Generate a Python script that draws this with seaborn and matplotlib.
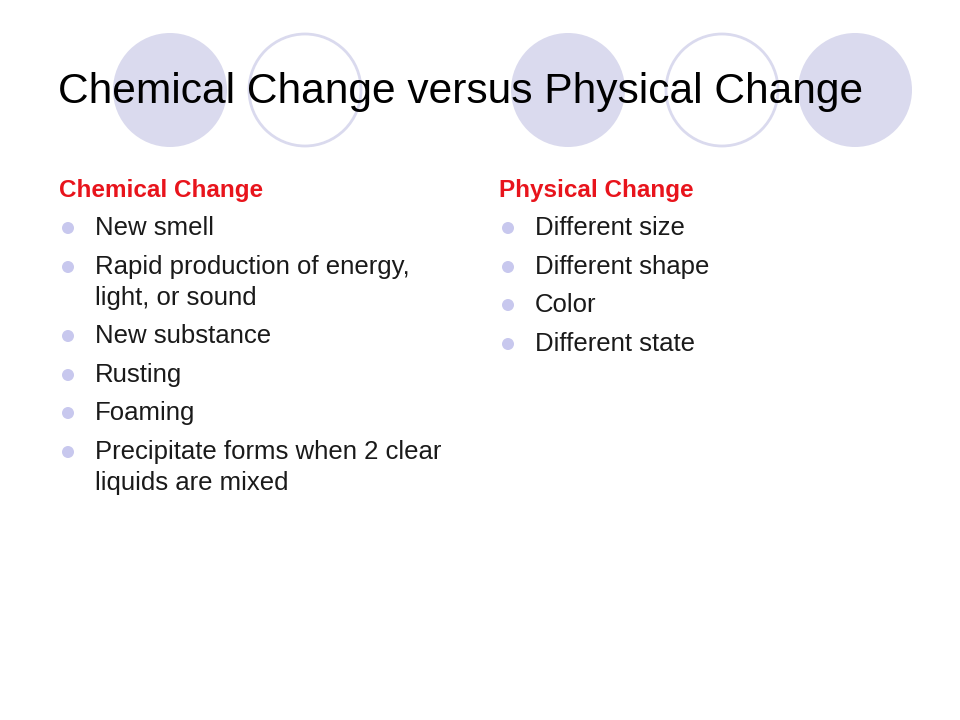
import matplotlib
matplotlib.use("Agg")
import matplotlib.pyplot as plt
import seaborn as sns
from matplotlib.patches import Circle

title = "Chemical Change versus Physical Change"
left_header = "Chemical Change"
right_header = "Physical Change"
left_items = ["New smell", "Rapid production of energy,\nlight, or sound", "New substance",
              "Rusting", "Foaming", "Precipitate forms when 2 clear\nliquids are mixed"]
left_rows = [228, 267, 336, 375, 413, 452]
right_items = ["Different size", "Different shape", "Color", "Different state"]
right_rows = [228, 267, 305, 344]

# decorative circles: (x, y, filled)
circles = [(170, 90, True), (305, 90, False), (568, 90, True), (722, 90, False), (855, 90, True)]

lav = "#dadaee"
sns.set_theme(style="white")
plt.rcParams['font.family'] = ['Liberation Sans', 'DejaVu Sans']

fig = plt.figure(figsize=(9.6, 7.2), dpi=100)
ax = fig.add_axes([0, 0, 1, 1])
ax.set_xlim(0, 960)
ax.set_ylim(720, 0)
ax.axis("off")

for cx, cy, filled in circles:
    if filled:
        ax.add_patch(Circle((cx, cy), 57, facecolor=lav, edgecolor="none"))
    else:
        ax.add_patch(Circle((cx, cy), 56, facecolor="white", edgecolor=lav, lw=2))

ax.text(58, 92, title, fontsize=30.6, va="center", ha="left", color="black")

def column(x0, header, items, rows):
    ax.text(x0 + 1, 190, header, fontsize=17.5, fontweight="bold", color="#e8141c", va="center")
    for item, y in zip(items, rows):
        ax.add_patch(Circle((x0 + 10, y), 6, facecolor="#c8c8ee", edgecolor="none"))
        for k, line in enumerate(item.split("\n")):
            ax.text(x0 + 37, y + 31 * k, line, fontsize=18.5, va="center", ha="left",
                    color="#1a1a1a")

column(58, left_header, left_items, left_rows)
column(498, right_header, right_items, right_rows)

fig.savefig("out.png", dpi=100, facecolor="white")
